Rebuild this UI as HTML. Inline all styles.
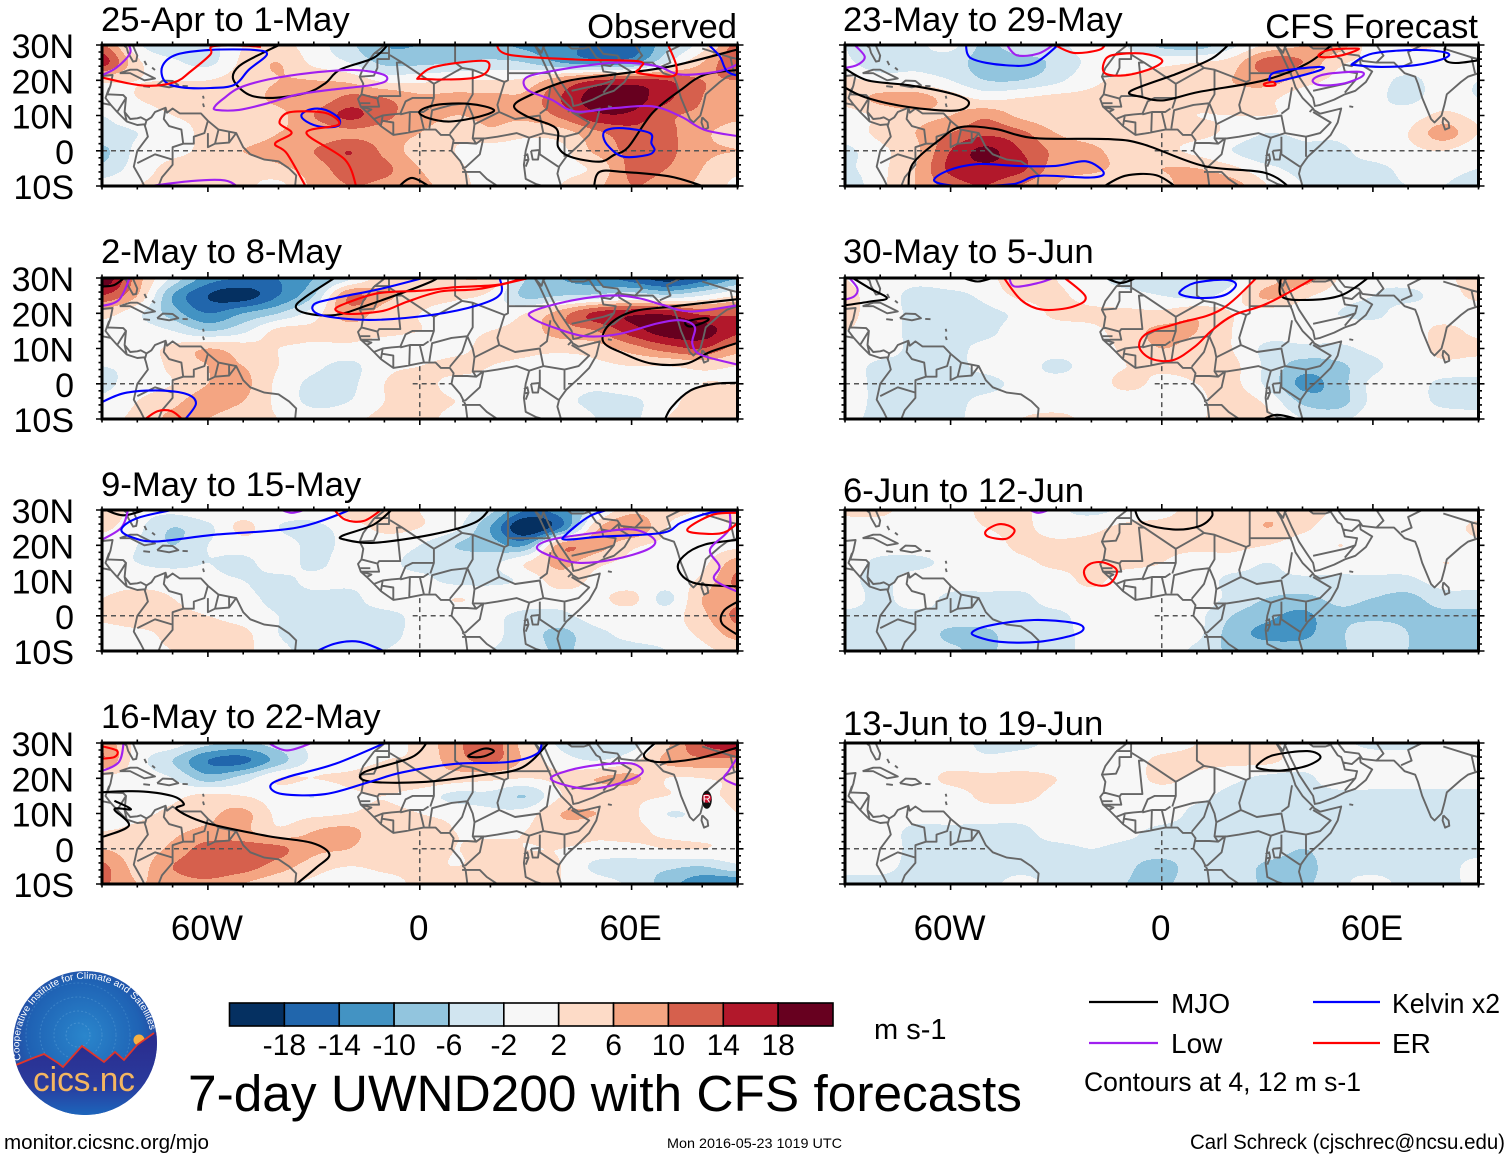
<!DOCTYPE html>
<html lang="en">
<head>
<meta charset="utf-8">
<title>7-day UWND200 with CFS forecasts</title>
<style>
html,body{margin:0;padding:0;background:#fff;}
svg{display:block;}
text{font-family:"Liberation Sans",Arial,sans-serif;fill:#000;}
</style>
</head>
<body>
<svg id="chart" xmlns="http://www.w3.org/2000/svg" width="1510" height="1158" viewBox="0 0 1510 1158">
  <defs>
    <clipPath id="logo-clip"><circle cx="85" cy="1043" r="72"/></clipPath>
    <radialGradient id="logo-sky" cx="50%" cy="45%" r="60%">
      <stop offset="0" stop-color="#2a86cc"/>
      <stop offset="0.65" stop-color="#1f62b4"/>
      <stop offset="1" stop-color="#2b3a96"/>
    </radialGradient>
    <linearGradient id="logo-ground" x1="0" y1="0" x2="0" y2="1">
      <stop offset="0" stop-color="#2a2a8c"/>
      <stop offset="0.6" stop-color="#2a3a9c"/>
      <stop offset="1" stop-color="#1a6cc0"/>
    </linearGradient>
  </defs>
  <rect x="0" y="0" width="1510" height="1158" fill="#fff"/>
  <g id="panels"></g>

  <text x="737" y="38" font-size="34.6" text-anchor="end">Observed</text>
  <text x="1478" y="38" font-size="34.5" text-anchor="end">CFS Forecast</text>

  <g id="colorbar"></g>
  <text x="874" y="1039" font-size="29">m s-1</text>
  <text x="188" y="1111" font-size="51.4" textLength="834" lengthAdjust="spacingAndGlyphs">7-day UWND200 with CFS forecasts</text>

  <g>
    <line x1="1089" y1="1002" x2="1158" y2="1002" stroke="#000" stroke-width="2.2"/>
    <text x="1171" y="1013" font-size="28">MJO</text>
    <line x1="1089" y1="1043" x2="1158" y2="1043" stroke="#a020f0" stroke-width="2.2"/>
    <text x="1171" y="1053" font-size="28">Low</text>
    <line x1="1313" y1="1002" x2="1380" y2="1002" stroke="#0000ff" stroke-width="2.2"/>
    <text x="1392" y="1013" font-size="28" textLength="108" lengthAdjust="spacingAndGlyphs">Kelvin x2</text>
    <line x1="1313" y1="1043" x2="1380" y2="1043" stroke="#ff0000" stroke-width="2.2"/>
    <text x="1392" y="1053" font-size="28">ER</text>
    <text x="1084" y="1091" font-size="26.5" textLength="277" lengthAdjust="spacingAndGlyphs">Contours at 4, 12 m s-1</text>
  </g>

  <text x="4" y="1149" font-size="20.5" textLength="205" lengthAdjust="spacingAndGlyphs">monitor.cicsnc.org/mjo</text>
  <text x="667" y="1148" font-size="14" textLength="175" lengthAdjust="spacingAndGlyphs">Mon 2016-05-23 1019 UTC</text>
  <text x="1190" y="1149" font-size="21" textLength="315" lengthAdjust="spacingAndGlyphs">Carl Schreck (cjschrec@ncsu.edu)</text>

  <g>
    <circle cx="85" cy="1043" r="72" fill="url(#logo-sky)"/>
    <g clip-path="url(#logo-clip)">
      <circle cx="78" cy="1035" r="12" fill="none" stroke="#5aa0d8" stroke-width="1" stroke-dasharray="2 2" opacity=".6"/>
      <circle cx="78" cy="1035" r="24" fill="none" stroke="#5aa0d8" stroke-width="1" stroke-dasharray="2 2" opacity=".5"/>
      <circle cx="78" cy="1035" r="38" fill="none" stroke="#5aa0d8" stroke-width="1" stroke-dasharray="2 2" opacity=".45"/>
      <circle cx="78" cy="1035" r="52" fill="none" stroke="#5aa0d8" stroke-width="1" stroke-dasharray="2 2" opacity=".4"/>
      <circle cx="139" cy="1040" r="5.5" fill="#f6b042"/>
      <polygon points="10,1068 16,1065 33,1058 44,1054 58,1063 63,1067 82,1046 104,1062 115,1052 124,1060 137,1045 154,1033 160,1030 160,1120 10,1120" fill="url(#logo-ground)"/>
      <polyline points="10,1068 16,1065 33,1058 44,1054 58,1063 63,1067 82,1046 104,1062 115,1052 124,1060 137,1045 154,1033" fill="none" stroke="#e0352b" stroke-width="1.8"/>
    </g>
    <path id="logo-arc" d="M 21 1060 A 66 66 0 1 1 150 1030" fill="none"/>
    <text font-size="9.5" style="fill:#ffffff"><textPath href="#logo-arc" textLength="208" lengthAdjust="spacingAndGlyphs">Cooperative Institute for Climate and Satellites</textPath></text>
    <text x="33" y="1091" font-size="34" textLength="102" lengthAdjust="spacingAndGlyphs" style="fill:#f4b660">cics.nc</text>
  </g>
</svg>

<script>
// ---------- Chart data ----------
const gridLons = [-90,-80,-70,-60,-50,-40,-30,-20,-10,0,10,20,30,40,50,60,70,80,90];
const gridLats = [30,25,20,15,10,5,0,-5,-10];
const latTicks = [30,20,10,0,-10];
const latTickLabels = ['30N','20N','10N','0','10S'];
const lonTicks = [-60,0,60];
const lonTickLabels = ['60W','0','60E'];
const colorLevels = [-18,-14,-10,-6,-2,2,6,10,14,18];
const colorLevelLabels = ['-18','-14','-10','-6','-2','2','6','10','14','18'];
const binColors = ['#053061','#2166ac','#4393c3','#92c5de','#d1e5f0','#f7f7f7','#fddbc7','#f4a582','#d6604d','#b2182b','#67001f'];
const panelTitles = ['25-Apr to 1-May','2-May to 8-May','9-May to 15-May','16-May to 22-May','23-May to 29-May','30-May to 5-Jun','6-Jun to 12-Jun','13-Jun to 19-Jun'];

const fieldApr25 = [
[11,-1,-5,-4,2,3,0,-5,-10,-10,-9,-9,-11,-13,-15,-16,-7,0,12],
[16,3,-1,-3,3,6,1,-2,-7,-7,-6,-5,-6,-10,-12,-11,-2,6,14],
[3,2,2,2,4,6,6,5,1,1,2,2,3,9,14,15,14,10,10],
[0,2,3,3,4,7,7,11,10,7,7,7,7,14,20,20,15,10,8],
[-2,0,2,3,4,5,10,15,11,8,6,7,7,11,17,17,11,9,7],
[-3,-2,0,3,3,6,7,9,8,6,3,5,3,4,9,12,11,7,4],
[-7,-1,1,3,6,8,10,14,9,4,2,0,0,1,7,11,11,7,6],
[-5,0,3,3,3,5,8,12,11,6,3,0,0,1,3,11,10,6,3],
[0,2,3,4,3,1,7,10,9,7,4,0,0,2,5,10,8,5,1]];
const fieldMay2 = [
[22,8,-3,-12,-14,-14,-10,-3,4,5,6,5,-6,-10,-12,-16,-20,-16,-10],
[14,6,-10,-18,-20,-14,-6,10,7,4,3,1,-7,-6,-5,-3,-5,-2,2],
[4,-1,-8,-14,-10,-6,0,8,4,2,0,-1,2,8,15,17,17,13,13],
[0,0,-2,-6,-3,3,3,4,3,2,1,2,4,8,10,16,20,20,15],
[-1,0,3,6,4,2,1,1,0,0,1,3,3,3,4,8,12,14,8],
[-2,-1,3,6,6,2,-1,-3,1,2,3,2,1,0,1,2,2,3,2],
[-3,0,2,6,7,1,-3,-3,2,3,1,1,0,0,-1,1,1,2,2],
[-1,2,5,8,6,1,-3,-2,2,3,2,1,0,-1,-3,-3,1,3,3],
[1,3,7,6,3,2,0,1,3,3,1,0,1,2,-2,-3,2,2,2]];
const fieldMay9 = [
[6,0,-1,1,0,0,0,4,5,2,0,-5,-14,-12,-3,5,3,2,3],
[3,-1,-6,-3,3,-2,-3,0,3,2,-1,-10,-22,-14,5,10,2,1,2],
[0,-2,-6,-2,0,0,-3,-1,0,-2,-6,-8,-10,8,8,3,1,0,1],
[-1,-2,-3,-2,-3,0,-3,0,-1,-3,-3,-3,2,7,3,1,0,1,8],
[0,0,0,-1,-2,-3,-1,-1,-1,-1,-3,-3,-1,4,1,0,0,3,11],
[2,4,2,0,-1,-3,-3,-3,0,0,2,1,0,0,1,3,-3,6,9],
[3,5,3,2,0,-2,-3,-3,-3,-1,0,-1,-3,-3,0,0,0,5,11],
[0,1,3,4,3,-2,-3,-3,-3,-1,0,-1,-4,-7,-3,-1,0,3,8],
[0,1,2,3,3,-1,-3,-3,-2,-1,0,-2,-3,-7,-3,-3,-2,1,3]];
const fieldMay16 = [
[9,1,0,-5,-7,-4,-1,1,1,3,9,12,4,-3,-6,-4,5,14,17],
[10,0,-6,-14,-15,-8,-1,0,2,3,8,11,5,0,-2,1,7,9,9],
[1,0,-2,-8,-4,2,2,3,5,5,4,3,2,3,6,7,2,2,3],
[0,0,1,3,2,0,-2,1,2,0,-3,-3,-6,2,3,3,2,1,3],
[0,1,3,5,7,1,1,2,3,2,1,-1,0,6,6,3,-2,-1,2],
[2,3,5,7,7,3,6,7,3,3,2,1,2,4,3,3,1,0,1],
[6,4,7,12,12,11,7,6,3,4,2,3,2,2,1,1,2,2,1],
[11,5,10,13,12,8,4,2,3,3,2,3,3,2,-3,-4,-5,-6,-3],
[11,6,8,9,6,3,1,-2,0,3,4,5,3,2,0,-3,-8,-13,-14]];
const fieldMay23 = [
[-2,-5,-3,-1,-7,-3,-3,0,-2,-7,-8,-3,3,6,8,0,2,2,2],
[-1,-5,-3,-4,-8,-8,-5,-1,0,1,2,4,12,10,3,1,1,1,0],
[3,1,0,-2,-6,-6,-3,1,3,3,4,6,8,4,1,0,-3,0,-2],
[4,7,8,4,1,2,3,3,3,3,3,4,3,0,0,-1,-3,0,-2],
[0,3,5,6,9,5,3,3,3,3,2,2,2,1,0,-1,0,3,1],
[0,3,6,10,13,11,6,4,3,3,3,1,-2,-1,-1,1,2,8,2],
[-3,1,5,14,19,14,9,7,4,3,1,-2,-5,-3,-3,0,1,2,-1],
[-3,1,6,15,17,15,8,7,5,6,6,3,-1,-3,-3,-3,-1,-1,-2],
[-5,1,6,12,14,10,6,3,3,4,10,8,2,-2,-5,-3,-2,-2,-3]];
const fieldMay30 = [
[2,0,-1,0,0,6,2,-1,-3,-3,-5,-3,4,8,2,-1,0,1,4],
[3,0,-3,-3,-1,3,3,0,-1,-2,-3,0,7,3,0,-2,-3,0,3],
[3,0,-3,-5,-3,-1,3,3,3,3,5,2,0,0,-2,-3,0,0,0],
[2,0,-3,-3,-3,0,0,1,4,7,6,2,0,0,0,0,0,3,1],
[0,0,-3,-3,-1,0,0,0,3,6,4,2,-3,-3,-3,-1,0,3,3],
[0,-3,-3,-3,-1,0,-3,0,2,3,3,3,-3,-8,-7,-3,0,1,0],
[0,-3,-3,-3,-3,-1,0,0,3,1,2,3,-3,-11,-8,-1,0,-3,-3],
[0,-3,-3,-3,-1,0,0,0,0,0,1,4,1,-7,-8,-1,0,-3,-3],
[-1,-3,-3,-3,0,2,3,1,0,0,1,5,3,-2,-3,0,0,0,-1]];
const fieldJun6 = [
[3,3,0,0,3,3,-1,-3,-1,1,3,3,5,5,1,0,0,0,0],
[0,0,0,0,2,3,0,1,3,3,3,3,6,3,0,0,0,0,3],
[0,0,0,0,0,3,3,3,3,3,3,3,2,0,2,1,1,0,1],
[0,-3,-3,-1,0,1,3,3,3,2,0,0,-2,0,0,0,0,2,1],
[-1,-3,0,0,0,0,0,3,0,0,0,-3,-3,-3,-3,-3,-3,0,0],
[0,-3,0,-3,-3,-3,0,0,0,0,0,-3,-6,-7,-5,-6,-7,-4,-4],
[-3,-3,-3,-3,-3,-3,-3,0,0,0,-1,-6,-9,-11,-7,-7,-7,-7,-7],
[-3,-3,-3,-7,-7,-3,-3,-1,0,0,-1,-8,-11,-11,-7,-3,-6,-8,-8],
[-3,-3,-3,-5,-7,-3,-3,-1,0,0,-3,-7,-8,-8,-7,-3,-6,-7,-7]];
const fieldJun13 = [
[0,0,0,0,-3,-3,-1,0,0,0,2,3,3,0,-1,-3,-3,0,0],
[0,0,0,0,-1,0,0,0,0,3,3,3,3,0,0,0,0,0,0],
[0,0,0,3,3,3,2,0,0,3,1,-1,-3,-3,0,0,0,0,0],
[0,0,0,0,3,3,1,0,0,0,-1,-3,-3,-3,-3,-3,-3,-3,-3],
[0,0,0,0,0,0,0,0,0,0,-3,-3,-3,-3,-3,-3,-3,-3,-3],
[0,0,-3,-3,-3,-3,0,0,-1,-3,-3,-3,-3,-3,-3,-3,-3,-4,-3],
[0,0,-3,-3,-3,-3,-3,-2,-3,-3,-3,-3,-3,-6,-3,-3,-3,-3,-3],
[-1,-1,-3,-3,-3,-3,-3,-3,-5,-8,-3,-3,-7,-8,-3,-3,-3,-3,-1],
[-3,-3,-3,-3,-3,-1,-3,-3,-6,-7,-3,-3,-7,-7,-3,-1,-3,-3,-1]];
const panelFields = [fieldApr25,fieldMay2,fieldMay9,fieldMay16,fieldMay23,fieldMay30,fieldJun6,fieldJun13];

// Anomaly contours as [lon, lat] pairs; a repeated first point closes the curve.
const mjoApr25 = [
[[-37.6,31],[-44.4,27.8],[-51.2,24],[-52.8,20.2],[-48.4,15.9],[-41.6,15],[-32.1,16.4],[-26.7,19.2],[-22.6,23],[-13,26.4],[-8.3,31]],
[[-6.3,-10.5],[-2.2,-7.7],[3.3,-10.5]],
[[-0.1,11.1],[4.6,13],[14.1,13.3],[21,11.6],[16.9,9.7],[8.7,8.3],[2.6,9.2],[-0.1,11.1]],
[[91,29],[71.3,24],[55,21.6],[41.4,19.7],[30.5,15.4],[26.7,12.6],[30.5,9.7],[38.6,6.4],[39.2,1.1],[42.7,-1.7],[50.9,-3.1],[55,-1.2],[59.1,1.1],[65.9,10.7],[74,17.3],[80.8,21.6],[91,23]],
[[49.3,-10.5],[50.9,-6],[57.7,-6],[71.3,-7.4],[81.5,-10.5]]];
const lowApr25 = [
[[-58,12.6],[-55.3,15],[-51.2,17.8],[-43,20.2],[-30.7,22.1],[-18.5,22.9],[-10.3,21.6],[-9.7,19.7],[-14.4,18.5],[-25.3,17.3],[-34.8,15.9],[-43,13.5],[-51.2,11.6],[-57.6,11.6],[-58,12.6]],
[[-91,21],[-86,23.5],[-82,27.8],[-83,31]],
[[-79.7,-10.5],[-64.8,-8.6],[-55.2,-8.4],[-51.2,-10.5]],
[[91,4],[80.8,5.9],[74,9.7],[65.9,12.6],[55,12.1],[44.1,11.1],[37.3,14.5],[30.5,17.3],[30.1,20.7],[37.3,22.6],[49.6,24.5],[57.7,25],[67.2,24],[74,21.6],[84.9,22.6],[91,25]]];
const kelvinApr25 = [
[[-72.9,24],[-68.8,27.3],[-59.3,28.6],[-47,28.6],[-43.3,27.3],[-48.4,23],[-52.5,18.7],[-59.3,17.8],[-67.5,18],[-72.2,19.7],[-72.9,24]],
[[-33.5,10.2],[-30.7,11.8],[-26.7,11.6],[-22.9,9.2],[-23.3,7],[-28,6.8],[-32.1,8.3],[-33.5,10.2]],
[[52,4],[52.9,5.9],[57.7,6.4],[65.2,5],[65.6,2.1],[66.5,0.2],[64.5,-1.2],[57.7,-1.7],[53.6,1.1],[52,4]],
[[80.8,31],[84.9,26.9],[87,22.6],[91,21]]];
const erApr25 = [
[[-91,21],[-78.5,18.5],[-69.6,19.4],[-64.8,22.6],[-59.3,27.3],[-58.7,29.6],[-50,29.8],[-45,29.5]],
[[-32.1,-10.5],[-37.6,-0.8],[-41,2],[-36.3,5],[-39.7,7.8],[-37.6,10.7],[-32.1,11.2],[-26,10.5],[-23,7.4],[-32.1,5],[-21.2,-2.5],[-17.9,-10.5]],
[[-0.5,20.7],[3.3,23.5],[11.4,25],[18.9,25.4],[19.2,22.6],[15.5,20.7],[7.3,20.2],[0.5,20.4],[-0.5,20.7]],
[[21.6,31],[25,27.3],[44.1,25.9],[61.8,25.4],[62.4,23.5],[61.8,22.1],[71.3,21.1],[72.7,24],[69.9,31]]];

const mjoMay2 = [
[[-91,27.6],[-86.6,28],[-83.2,30.5]],
[[-22.6,31],[-32.1,24.8],[-35.1,21.9],[-32.1,20],[-23.9,19.5],[-14.4,22.4],[3.3,29],[5,31]],
[[91,24.1],[71.3,21.9],[60.4,20.5],[53.6,16.7],[52,11.9],[57.7,8.6],[65.9,5.7],[75.4,5.7],[82.2,9],[91,11.9]],
[[75.4,17.6],[80.8,18.6],[81.5,17.9],[76.7,16.2],[75.4,17.6]],
[[69.3,-10.5],[71.3,-6.7],[76.7,-1.9],[83.5,0],[91,0.3]]];
const lowMay2 = [
[[-91,21.9],[-85.2,23.8],[-81.8,31]],
[[-77,-9.9],[-60,-9.9]],
[[91,22.4],[76.9,20.5],[68.7,22.4],[61.9,24.3],[53.7,25],[41.5,23.3],[31.9,20.5],[31.9,18.6],[38.7,15.7],[46.8,13.5],[56.4,14.1],[67.2,17.1],[74,18],[77.9,16.1],[77.2,11.4],[79.9,8.1],[91,5.2]]];
const kelvinMay2 = [
[[4.6,31],[-10.3,27.1],[-23.9,24.3],[-30.1,22.4],[-28,19.5],[-14.4,18.1],[3.3,19.5],[16.9,22.4],[23,25.7],[22.3,31]],
[[-91,-5.7],[-83.9,-2.7],[-74.4,-1.9],[-66.1,-2.9],[-63.4,-5.7],[-66.8,-10.5]]];
const erMay2 = [
[[31,30.5],[22.3,28.1],[10.1,27.4],[0.5,26.4],[-11.7,25.7],[-21.2,22.7],[-23.9,21],[-19.9,19.8],[-10.3,20.7],[-3.5,23.3],[6,26.2],[16.9,26.9],[31,30]],
[[-78.4,-10.5],[-74.3,-7.8],[-70.2,-7.8],[-66.8,-10.5]]];

const mjoMay9 = [
[[-90,30.5],[-83.9,28.5],[-76.4,30.5]],
[[20.3,31],[15.5,26.4],[3.3,23],[-13,20.7],[-21.2,21.6],[-21.9,22.7],[-13,25.9],[-7,31]],
[[91,21.6],[80.8,20.2],[74.7,16.9],[73.3,13],[78.1,9.2],[91,8.3]],
[[91,4.5],[86.3,1.6],[85.6,-2.2],[91,-6]]];
const lowMay9 = [
[[-91,21.1],[-84.5,25],[-82.4,31]],
[[-39.6,30.2],[-36.2,29.2],[-32.1,30.2]],
[[33.2,19.2],[37.3,21.6],[49.6,23.5],[60.4,24.5],[66.5,21.6],[64.5,18.8],[55,16],[45.4,15],[38.6,16.4],[33.2,19.2]],
[[87.6,31],[87.6,24.5],[82.2,18.8],[84.9,14],[83.5,10.2],[91,6.4]]];
const kelvinMay9 = [
[[-67.5,30.5],[-79.7,27.8],[-84.5,24.5],[-81.1,22.1],[-74.3,21.1],[-58,23],[-34.8,25],[-18.5,30.5]],
[[55,30.5],[48.2,28.3],[41.4,23],[41.4,21.6],[50.9,22.4],[68.6,23.5],[74,26.4],[82.2,29.2],[91,29.7]],
[[-30.1,-10.5],[-24,-7.9],[-17.1,-7.4],[-9,-10.5]]];
const erMay9 = [
[[-24.6,30.5],[-21.2,27.3],[-15.8,26.9],[-10.3,30.5]],
[[91,29.2],[83.5,28.8],[76.7,25.4],[76.7,23.7],[84.9,23.3],[89,25.4],[91,28]]];

const mjoMay16 = [
[[2.6,31],[-2.2,26],[-15.8,21.7],[-14.4,19.1],[0.5,18.9],[16.9,20.8],[29.1,23.1],[37.3,31]],
[[13.9,26.5],[18.2,28.4],[21,27.7],[18.2,26.2],[14.8,26],[13.9,26.5]],
[[67.9,31],[63.5,26.7],[67.2,24.6],[78.1,25.5],[91,29]],
[[-91,16],[-79.7,16.3],[-70.2,15],[-66.8,12.7],[-68.8,11.2],[-60.7,7.4],[-43,3.6],[-30.7,1.7],[-25.6,-1.6],[-29.4,-5.4],[-35.5,-10.5]],
[[-86.5,13.6],[-81.8,11.2],[-86.5,11.2],[-82.4,6.5],[-91,3]]];
const lowMay16 = [
[[-91,21.7],[-85.2,24.6],[-83.8,31]],
[[-43.7,30.5],[-37.6,27.9],[-29.4,30.5]],
[[37.3,20.3],[44.1,22.7],[53.7,24.1],[60.4,24.1],[63.1,21.7],[57.7,18.9],[48.2,17],[40,18.4],[37.3,20.3]],
[[91,27.4],[87.6,22.2],[86.3,19.8],[91,17.6]]];
const kelvinMay16 = [
[[-7.6,31],[-23.9,24.1],[-37.6,20.3],[-42.3,17.9],[-38.9,15.5],[-26.7,15.5],[-14.4,18.9],[-4.9,21.7],[10.1,24.1],[25,24.6],[33.2,27],[34.6,31]]];
const erMay16 = [
[[-91,29.3],[-85.9,27.9],[-86.5,26],[-91,25.5]]];

const mjoMay23 = [
[[-91,24],[-83.7,20],[-72,18.6],[-59.7,16.2],[-54.8,13.8],[-58.4,11.4],[-72,12.4],[-84.3,15.2],[-91,18.5]],
[[19.9,31],[14.3,26.2],[4.4,21.9],[-8.9,16.9],[-5.4,15.2],[0.7,14.3],[10.6,16.7],[29.1,20],[41.4,24.8],[49.4,31]],
[[80.9,31],[80.3,26.2],[83.4,24.9],[91,25.8]],
[[-72,-10.5],[-70.8,-3.8],[-63.4,2.9],[-57.2,6.7],[-47.3,6.2],[-36.3,3.6],[-15.3,3.3],[-5.4,1.9],[11.8,-4.3],[29.1,-6.2],[36.5,-10.5]],
[[-17.1,-10.5],[-10.4,-7.1],[-1.7,-6.9],[4.4,-10.5]]];
const lowMay23 = [
[[-87.8,30.5],[-84.4,26.7],[-86.6,24.3],[-91,23.3]],
[[-44.3,30.5],[-41.2,27.1],[-35,27.6],[-30.1,30.5]],
[[42.9,20],[46.4,21.7],[56.2,22.4],[56.8,21],[51.3,19],[45.1,18.6],[42.9,20]]];
const kelvinMay23 = [
[[-55.7,30.5],[-54.1,26.2],[-44.9,24.3],[-36.3,24.8],[-28.9,30.5]],
[[54.4,24.8],[59.9,27.6],[72.3,28.6],[80.9,27.8],[80.3,26.2],[72.3,24.3],[62.4,23.8],[55,24.3],[54.4,24.8]],
[[30.6,20.5],[32.8,22.4],[44.5,23.8],[45.1,22.9],[36.5,20.5],[31.6,19.5],[30.6,20.5]],
[[-64.6,-8.6],[-60.9,-5.7],[-52.3,-3.8],[-41.2,-4.3],[-30.1,-4.3],[-21.5,-3],[-16.5,-6.2],[-20.2,-7.6],[-35,-7.1],[-42.4,-9.5],[-57.2,-10],[-64.6,-8.6]]];
const erMay23 = [
[[-31.3,30.5],[-25.2,27.8],[-17.8,28.6],[-15.9,30.5]],
[[-16.5,24.8],[-14.1,27.1],[-5.4,27.6],[0.1,25.7],[-3,23.3],[-10.4,21.4],[-16,21.9],[-16.5,24.8]],
[[44.5,27.1],[47.6,28.6],[55,29],[55.6,28.6],[51.3,27.1],[46.4,26.5],[44.5,27.1]],
[[29.1,19],[31.6,19.5],[32.2,18.6],[29.7,18.4],[29.1,19]]];

const mjoMay30 = [
[[-88.6,30.5],[-83,27.1],[-78.1,24.3],[-83,23.3],[-91,22.1]],
[[-57.2,30.3],[-52.3,29],[-47.3,30.3]],
[[-16.5,30.3],[-11.6,28.6],[-6.7,30.3]],
[[34,31],[34,24.8],[41.4,23.8],[51.3,25.2],[59.9,31]],
[[27.9,-10.5],[32.8,-8.8],[40.2,-10.5]]];
const lowMay30 = [
[[-89.2,30.5],[-86.5,27.1],[-87.4,24.8],[-91,23.6]],
[[-43.4,30.5],[-41.8,27.6],[-35,28.6],[-29.5,30.5]]];
const kelvinMay30 = [
[[5.2,26.2],[9.4,28.6],[18,29.5],[21.1,28.1],[18,25.2],[11.8,24.3],[6.2,25],[5.2,26.2]]];
const erMay30 = [
[[-45.5,31],[-40,23.8],[-33.8,21],[-25.2,21.9],[-21.7,24.8],[-28.9,31]],
[[27.9,31],[16.8,21],[4.4,17.1],[-4.2,14.3],[-6.4,10.5],[-3,7.1],[3.2,6.7],[9.4,10.5],[14.3,15.2],[20.5,19.5],[30.3,22.9],[45.1,31]]];

const mjoJun6 = [[[-7.9,31],[-5.4,26.4],[3.2,24.5],[10.6,25.4],[14.3,28.3],[13.7,31]]];
const lowJun6 = [[[-38.1,30.3],[-35,29.2],[-31.3,30.3]]];
const kelvinJun6 = [[[-53.8,-4.6],[-48.6,-2.7],[-36.3,-1.2],[-25.2,-2],[-22.2,-3.6],[-25.2,-5.5],[-35,-7.4],[-46.1,-7.4],[-52.3,-6],[-53.8,-4.6]]];
const erJun6 = [
[[-50,24],[-46.7,25.9],[-43.6,25.6],[-41.8,24],[-44.3,21.8],[-49.2,22.4],[-50,24]],
[[-22.1,12.6],[-20.2,14.8],[-16.5,15.1],[-12.8,13],[-14.1,9.7],[-17.1,8.5],[-20.8,9.7],[-22.1,12.6]]];

const mjoJun13 = [[[27.3,23.9],[31.6,26.5],[41.4,27.7],[45.1,26],[41.4,23.6],[34,22.2],[27.9,22.7],[27.3,23.9]]];
const lowJun13 = [];
const kelvinJun13 = [];
const erJun13 = [];

const panelMjo = [mjoApr25,mjoMay2,mjoMay9,mjoMay16,mjoMay23,mjoMay30,mjoJun6,mjoJun13];
const panelLow = [lowApr25,lowMay2,lowMay9,lowMay16,lowMay23,lowMay30,lowJun6,lowJun13];
const panelKelvin = [kelvinApr25,kelvinMay2,kelvinMay9,kelvinMay16,kelvinMay23,kelvinMay30,kelvinJun6,kelvinJun13];
const panelEr = [erApr25,erMay2,erMay9,erMay16,erMay23,erMay30,erJun6,erJun13];

// Base map polylines as [lon, lat] pairs.
const coastlines = [
[[-84,30],[-83,29.2],[-82.6,27.8],[-81.2,25.3],[-80.3,25.5],[-80,27],[-81.3,30]],
[[-90,21.2],[-87,21.5],[-87.6,18.5],[-88.5,16],[-84,15.8],[-83.2,15],[-83.6,11],[-82,9],[-80,9.2],[-79,9.5],[-77.4,8.6],[-76,9.5],[-75,11],[-72,12.2],[-71.6,10.8],[-70,12],[-68,10.6],[-62,10.6],[-60,8.5],[-57,6],[-52,5],[-50,1],[-48,-1],[-44,-2.5],[-40,-3],[-37,-5],[-35,-7],[-35.3,-10]],
[[-90,13.5],[-87.5,13],[-85.7,11],[-83,8.3],[-80,7.3],[-78,7.5],[-77.5,6],[-77,4],[-78.5,2],[-80,0],[-81,-4.5],[-79,-8],[-78,-10]],
[[-85,22],[-82,23],[-80,23],[-75,20.5],[-78,20],[-82,22],[-85,22]],
[[-74.4,18.6],[-72.8,19.9],[-70,19.8],[-68.4,18.6],[-71,18],[-74.4,18.6]],
[[-78.3,18.3],[-76.4,18.1]],
[[-67.2,18.4],[-65.7,18.3]],
[[-78,25.5],[-77.4,24.3]],
[[-75.8,23.6],[-75,22.9]],
[[-61.4,15.6],[-61.2,14.8]],
[[-61.4,13.4],[-61.1,12.4]],
[[-9.8,30],[-13,27.5],[-16,23.5],[-17,21],[-16,19],[-16.5,16],[-17.5,14.7],[-16.7,12.5],[-15,11],[-13,9],[-11,7],[-7.5,4.5],[-4,5],[1,6],[4.5,6],[6,4.5],[8.5,4.5],[9.6,3],[9,0],[11.5,-3],[13,-6],[13.5,-10]],
[[32.5,30],[34,27.5],[37,21],[38,18],[40,15],[43,12],[43.3,11.5],[45,10.5],[51,12],[50,8],[48,4.5],[45,1.5],[41.5,-1.7],[39.5,-4.5],[39,-6.5],[40,-10]],
[[32.5,30],[34.5,27.8],[35,29.5],[37,25],[39,21],[41,18],[43,15],[43.5,12.7],[45,13],[49,14.5],[52,16],[55,17],[58,19.5],[59.8,22.5],[56.5,24.5],[56.3,26],[54,24],[51.5,24.5],[51,26],[50,26.5],[48,29.5],[48.5,30],[50,30],[52,27.5],[56,27],[57,25.5],[61,25],[66,25],[67,24],[69,22],[72,21],[72.8,19],[74,15],[76.5,9],[77.5,8],[79.5,10],[80.3,13],[81,16],[85,19.5],[87,21],[90,22]],
[[80,9.5],[81.5,8],[81.7,6.5],[80.5,6],[79.8,8],[80,9.5]],
[[53.3,12.6],[54.4,12.4]],
[[31.5,0],[33.9,0.2],[33.5,-2.5],[32,-2.5],[31.5,0]]
];
const borders = [
[[-72,12.2],[-72.5,9],[-71,7],[-67.5,6],[-67,2],[-70,1],[-70,-4],[-73,-7.5],[-74,-10]],
[[-80,-3.5],[-75,-1],[-70,-2.5]],
[[-60,8.5],[-61,5],[-64,4],[-64,2],[-67,2]],
[[-57,6],[-58,2],[-60,1],[-60,5]],
[[-54,5.5],[-54,2.3],[-58,2]],
[[-52,5],[-54,2.3]],
[[-74,-10],[-70.5,-10]],
[[-88,17.8],[-89,15],[-87.5,13]],
[[-83.2,15],[-85.7,11]],
[[-83.6,11],[-83,8.3]],
[[-77.4,8.6],[-77.8,7.2]],
[[-13,27.7],[-8.7,27.7],[-8.7,26],[-12,26],[-12,23.5],[-13,21.3],[-17,21]],
[[-8.7,30],[-8.7,27.3],[-5,25],[-6.5,25],[-5.5,15.5],[-11.5,15.5],[-12,14.8],[-16.5,16]],
[[-5,25],[4,19],[4,15],[1,15],[-2,15],[-4,14],[-5.5,10.5],[-8,10.3],[-10.5,10],[-13,9]],
[[4,19],[12,23.5],[10,25],[10,30]],
[[12,23.5],[15,23],[24,19.5],[25,20],[25,30]],
[[25,22],[37,22]],
[[24,19.5],[22,13],[22.5,11],[27,9],[34,10],[35,5],[31,3.7],[27.5,5],[22,4],[18.5,3.5],[15,3.5]],
[[15,23],[15,16],[13.5,13.5],[9,13],[3.5,11.5],[2.7,6.3]],
[[4,15],[3,12]],
[[13.5,13.5],[12,9],[8.5,4.8]],
[[13.5,13.5],[15,10],[15.5,7.5],[22.5,11]],
[[15.5,7.5],[15,3.5],[16,2],[13.5,2.2],[9.6,2.2]],
[[16,2],[18,3.5],[17,-1],[13,-4.7],[12,-5]],
[[12,-6],[17,-6],[19,-8],[22,-10]],
[[-16.7,12.5],[-11.5,12.5],[-12,14.8]],
[[-16.8,13.5],[-14,13.5]],
[[-16.7,12.5],[-13.7,11.7],[-15,11]],
[[-10.5,10],[-11,7]],
[[-10.5,8.5],[-7.5,8],[-7.5,4.5]],
[[-5.5,10.3],[-2.8,11],[0,11],[1,11],[2.5,12]],
[[-3,5],[-2.8,11]],
[[0,11],[1.2,6]],
[[37,18],[36,12],[34,10.5]],
[[35,5],[41,4],[41,-1.7]],
[[41,4],[45,5],[48,8],[43,11]],
[[43,12],[42,11]],
[[34,4],[34,-1],[39.5,-4.7]],
[[31,3.7],[30,0],[29.5,-4],[30,-8],[33,-9.5],[35,-10]],
[[29.5,-1.5],[30.5,-1],[30.8,-2.5],[29.5,-2.8]],
[[30.8,-2.5],[30,-4.5]],
[[35,29.5],[39,32]],
[[43,17],[52,19],[55,20],[52,16.5]],
[[55,20],[55.5,22],[52,22.5],[51.5,24.5]],
[[48,29.5],[46.5,29],[43,29],[39,32]],
[[61,25],[63,27],[61,30]],
[[68,23.7],[71,25],[70,28],[74,30]],
[[80,29],[88,26.5],[89,22]],
[[88,26.5],[90,26]]
];

// ---------- Rendering ----------
const NS = 'http://www.w3.org/2000/svg';
const root = document.getElementById('panels');
const LEFT_X = 102, RIGHT_X = 845, PANEL_W = 635.5, RIGHT_W = 633.5, PANEL_H = 141;
const ROW_Y = [45,278,510,743];
const TITLE_BASE_LEFT = [31,263,496,728];
const TITLE_BASE_RIGHT = [31,263,502,735];

function mk(tag, parent, geom) {
  const el = document.createElementNS(NS, tag);
  for (const k in geom) el.setAttribute(k, geom[k]);
  parent.appendChild(el);
  return el;
}
function xAxis(p, lon) { return p.x + (lon + 90) * p.w / 180; }
function yAxis(p, lat) { return p.y + (30 - lat) * p.h / 40; }
function invX(p, px) { return (px - p.x) * 180 / p.w - 90; }
function invY(p, py) { return 30 - (py - p.y) * 40 / p.h; }

function cubic(a, b, c, d, t) {
  return 0.5 * (2 * b + (c - a) * t + (2 * a - 5 * b + 4 * c - d) * t * t + (3 * b - a - 3 * c + d) * t * t * t);
}
function fieldAt(field, lon, lat) {
  const stepLon = gridLons[1] - gridLons[0];
  const stepLat = gridLats[0] - gridLats[1];
  const maxC = gridLons.length - 1, maxR = gridLats.length - 1;
  const cf = Math.min(maxC - 1e-6, Math.max(0, (lon - gridLons[0]) / stepLon));
  const rf = Math.min(maxR - 1e-6, Math.max(0, (gridLats[0] - lat) / stepLat));
  const c = Math.floor(cf), r = Math.floor(rf), tc = cf - c, tr = rf - r;
  const rows = [];
  for (let i = -1; i <= 2; i++) {
    const row = field[Math.min(maxR, Math.max(0, r + i))];
    rows.push(cubic(row[Math.max(0, c - 1)], row[c], row[Math.min(maxC, c + 1)], row[Math.min(maxC, c + 2)], tc));
  }
  return cubic(rows[0], rows[1], rows[2], rows[3], tr);
}
function binOf(v) {
  let b = 0;
  while (b < colorLevels.length && v >= colorLevels[b]) b++;
  return b;
}
function smoothPath(p, pts) {
  const c = pts.map(q => [xAxis(p, q[0]), yAxis(p, q[1])]);
  const closed = pts.length > 2 && pts[0][0] === pts[pts.length - 1][0] && pts[0][1] === pts[pts.length - 1][1];
  const n = c.length;
  const at = i => {
    if (closed) return c[((i % (n - 1)) + (n - 1)) % (n - 1)];
    return c[Math.max(0, Math.min(n - 1, i))];
  };
  let d = 'M' + c[0][0].toFixed(1) + ' ' + c[0][1].toFixed(1);
  for (let i = 0; i < n - 1; i++) {
    const p0 = at(i - 1), p1 = at(i), p2 = at(i + 1), p3 = at(i + 2);
    d += 'C' + (p1[0] + (p2[0] - p0[0]) / 6).toFixed(1) + ' ' + (p1[1] + (p2[1] - p0[1]) / 6).toFixed(1) + ' '
      + (p2[0] - (p3[0] - p1[0]) / 6).toFixed(1) + ' ' + (p2[1] - (p3[1] - p1[1]) / 6).toFixed(1) + ' '
      + p2[0].toFixed(1) + ' ' + p2[1].toFixed(1);
  }
  return d;
}
function linePath(p, pts) {
  return pts.map((q, i) => (i ? 'L' : 'M') + xAxis(p, q[0]).toFixed(1) + ' ' + yAxis(p, q[1]).toFixed(1)).join('');
}

function drawPanel(index) {
  const col = index < 4 ? 0 : 1;
  const row = index % 4;
  const p = { x: col ? RIGHT_X : LEFT_X, y: ROW_Y[row], w: col ? RIGHT_W : PANEL_W, h: PANEL_H };
  const g = mk('g', root, {});
  
  

  const clip = mk('clipPath', g, { id: 'panel-clip-' + index });
  mk('rect', clip, { x: p.x, y: p.y, width: p.w, height: p.h });
  const inner = mk('g', g, { 'clip-path': 'url(#panel-clip-' + index + ')' });
  
  

  // Filled field: quantised into colour bands, one path per band.
  const field = panelFields[index];
  const bands = binColors.map(() => []);
  const x0 = Math.round(p.x), x1 = Math.round(p.x + p.w), y0 = Math.round(p.y), y1 = Math.round(p.y + p.h);
  for (let py = y0; py < y1; py++) {
    const lat = invY(p, py + 0.5);
    let start = x0, cur = binOf(fieldAt(field, invX(p, x0 + 0.5), lat));
    for (let px = x0 + 1; px <= x1; px++) {
      const b = px < x1 ? binOf(fieldAt(field, invX(p, px + 0.5), lat)) : -1;
      if (b !== cur) {
        bands[cur].push('M' + start + ' ' + py + 'h' + (px - start) + 'v1h' + (start - px) + 'z');
        start = px;
        cur = b;
      }
    }
  }
  bands.forEach((segs, b) => {
    if (!segs.length) return;
    const band = mk('path', inner, { d: segs.join(''), fill: binColors[b], 'shape-rendering': 'crispEdges' });
    
    
  });

  // Base map
  const map = mk('path', inner, {
    d: coastlines.concat(borders).map(l => linePath(p, l)).join(''),
    fill: 'none', stroke: '#666', 'stroke-width': 1.9, 'stroke-linejoin': 'round'
  });
  
  

  // Reference lines
  [[-90,-50],[-2,9],[42,90]].forEach(seg => {
    const eq = mk('line', inner, {
      x1: xAxis(p, seg[0]), x2: xAxis(p, seg[1]), y1: yAxis(p, 0), y2: yAxis(p, 0),
      stroke: '#555', 'stroke-width': 1.5, 'stroke-dasharray': '5 4'
    });
    
    
  });
  const meridian = mk('line', inner, {
    x1: xAxis(p, 0), x2: xAxis(p, 0), y1: yAxis(p, 5), y2: yAxis(p, -10),
    stroke: '#555', 'stroke-width': 1.5, 'stroke-dasharray': '5 4'
  });
  
  

  // Wave contours
  [[panelMjo, '#000000', 'mjo'], [panelLow, '#a020f0', 'low'], [panelKelvin, '#0000ff', 'kelvin'], [panelEr, '#ff0000', 'er']].forEach(set => {
    set[0][index].forEach(pts => {
      const line = mk('path', inner, { d: smoothPath(p, pts), fill: 'none', stroke: set[1], 'stroke-width': 2.1 });
      
      
    });
  });

  // Cyclone marker drawn in the 16-May panel
  if (index === 3) {
    const blob = mk('ellipse', inner, { cx: xAxis(p, 81.3), cy: yAxis(p, 13.9), rx: 5, ry: 9, fill: '#111' });
    
    
    const dot = mk('circle', inner, { cx: xAxis(p, 81.3), cy: yAxis(p, 14.3), r: 4.5, fill: '#c8102e' });
    
    
    const rLabel = mk('text', inner, { x: xAxis(p, 81.3), y: yAxis(p, 14.3) + 4, 'font-size': 11, 'text-anchor': 'middle', style: 'fill:#fff' });
    
    
    rLabel.textContent = 'R';
  }

  // Frame
  const frame = mk('rect', g, { x: p.x, y: p.y, width: p.w, height: p.h, fill: 'none', stroke: '#000', 'stroke-width': 3 });
  
  

  // Ticks
  let tickPath = '';
  for (let lon = -90; lon <= 90; lon += 10) {
    const len = lonTicks.indexOf(lon) >= 0 ? 6 : 3.5;
    const tx = xAxis(p, lon).toFixed(1);
    tickPath += 'M' + tx + ' ' + p.y + 'v' + (-len) + 'M' + tx + ' ' + (p.y + p.h) + 'v' + len;
  }
  for (let lat = -10; lat <= 30; lat += 2) {
    const len = latTicks.indexOf(lat) >= 0 ? 6 : 3.5;
    const ty = yAxis(p, lat).toFixed(1);
    tickPath += 'M' + p.x + ' ' + ty + 'h' + (-len) + 'M' + (p.x + p.w) + ' ' + ty + 'h' + len;
  }
  const ticks = mk('path', g, { d: tickPath, stroke: '#000', 'stroke-width': 1.6, fill: 'none' });
  
  

  // Title
  const title = mk('text', g, { x: col ? p.x - 2 : p.x - 1, y: col ? TITLE_BASE_RIGHT[row] : TITLE_BASE_LEFT[row], 'font-size': 34.7 });
  
  
  title.textContent = panelTitles[index];

  // Latitude labels on the left column
  if (col === 0) {
    latTicks.forEach((lat, i) => {
      const t = mk('text', g, { x: 74, y: yAxis(p, lat) + 13, 'font-size': 34, 'text-anchor': 'end' });
      
      
      t.textContent = latTickLabels[i];
    });
  }
  // Longitude labels on the bottom row
  if (row === 3) {
    lonTicks.forEach((lon, i) => {
      const t = mk('text', g, { x: xAxis(p, lon) - 1, y: 940, 'font-size': 35, 'text-anchor': 'middle' });
      
      
      t.textContent = lonTickLabels[i];
    });
  }
}
for (let i = 0; i < 8; i++) drawPanel(i);

// Colour bar
const cbGroup = document.getElementById('colorbar');
const CB_X = 229.5, CB_Y = 1003, CB_W = 603.5, CB_H = 23;
const cbStep = CB_W / binColors.length;
binColors.forEach((color, i) => {
  const box = mk('rect', cbGroup, { x: CB_X + i * cbStep, y: CB_Y, width: cbStep, height: CB_H, fill: color, stroke: '#000', 'stroke-width': 1.6 });
  
  
});
colorLevelLabels.forEach((label, i) => {
  const t = mk('text', cbGroup, { x: CB_X + (i + 1) * cbStep, y: 1055, 'font-size': 30, 'text-anchor': 'middle' });
  
  
  t.textContent = label;
});
</script>
</body>
</html>
